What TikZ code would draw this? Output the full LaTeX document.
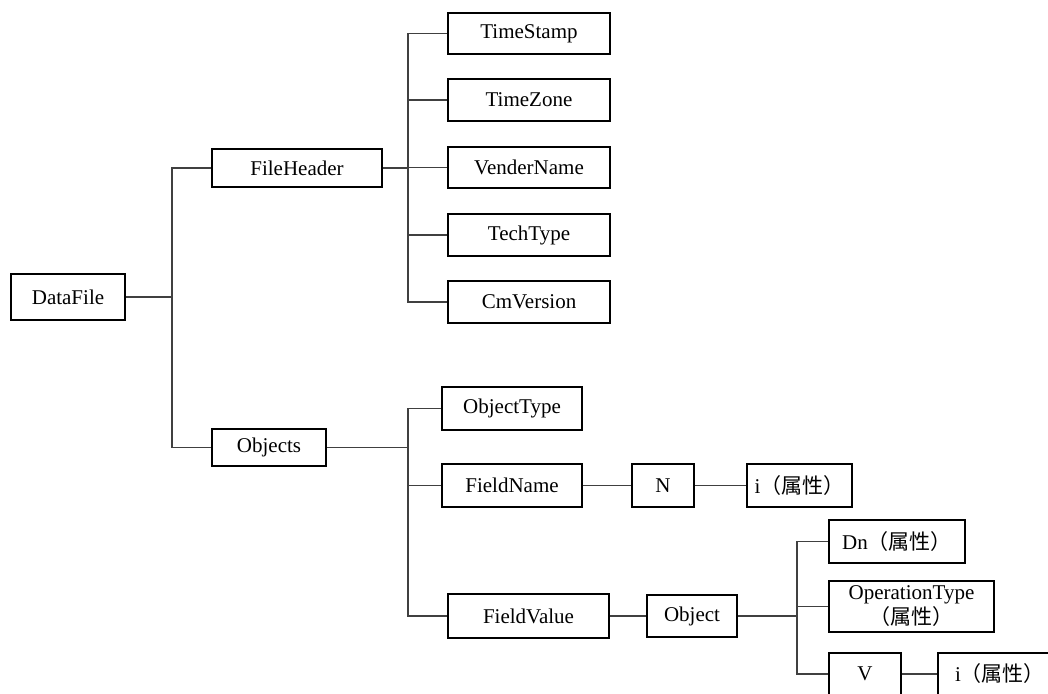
\documentclass[tikz,border=0pt]{standalone}
\usepackage{fontspec}
\setmainfont{Liberation Serif}
\newfontfamily\cjk{Noto Sans CJK SC}
\newcommand{\zh}[1]{{\cjk #1}}
\begin{document}
\begin{tikzpicture}[x=1pt,y=-1pt,
  box/.style={draw=black,line width=1.6pt,inner sep=0pt,align=center,
    font=\fontsize{21}{24}\selectfont},
  link/.style={draw=black!75,line width=1.1pt}]
\useasboundingbox (0,0) rectangle (1048,693);
\clip (0,0) rectangle (1048,693);
% nodes
\node[box,minimum width=114,minimum height=46] (datafile) at (68,297) {DataFile};
\node[box,minimum width=170,minimum height=38] (fileheader) at (297,168) {FileHeader};
\node[box,minimum width=114,minimum height=37] (objects) at (269,447.5) {Objects};
\node[box,minimum width=162,minimum height=41] (timestamp) at (529,33.5) {TimeStamp};
\node[box,minimum width=162,minimum height=42] (timezone) at (529,100) {TimeZone};
\node[box,minimum width=162,minimum height=41] (vendername) at (529,167.5) {VenderName};
\node[box,minimum width=162,minimum height=42] (techtype) at (529,235) {TechType};
\node[box,minimum width=162,minimum height=42] (cmversion) at (529,302) {CmVersion};
\node[box,minimum width=140,minimum height=43] (objecttype) at (512,408.5) {ObjectType};
\node[box,minimum width=140,minimum height=43] (fieldname) at (512,485.5) {FieldName};
\node[box,minimum width=62,minimum height=43] (n) at (663,485.5) {N};
\node[box,minimum width=105,minimum height=43] (ia) at (799.5,485.5) {i\zh{（属性）}};
\node[box,minimum width=161,minimum height=44] (fieldvalue) at (528.5,616) {FieldValue};
\node[box,minimum width=90,minimum height=42] (object) at (692,616) {Object};
\node[box,minimum width=136,minimum height=43] (dn) at (897,541.5) {Dn\zh{（属性）}};
\node[box,minimum width=165,minimum height=51] (optype) at (911.5,606.5) {OperationType\\[1pt]\zh{（属性）}};
\node[box,minimum width=72,minimum height=42] (v) at (865,674) {V};
\node[box,minimum width=124,minimum height=42] (ib) at (1000,674) {i\zh{（属性）}};
% junctions
\coordinate (j1) at (172,297);
\coordinate (j2) at (408,168);
\coordinate (j3) at (408,447.5);
\coordinate (j4) at (797,616);
% connectors
\draw[link] (datafile.east) -- (j1);
\draw[link] (fileheader.west) -| (j1) |- (objects.west);
\draw[link] (fileheader.east) -- (j2);
\draw[link] (timestamp.west) -| (j2) |- (cmversion.west);
\draw[link] (timezone.west) -- (timezone.west -| j2);
\draw[link] (vendername.west) -- (vendername.west -| j2);
\draw[link] (techtype.west) -- (techtype.west -| j2);
\draw[link] (objects.east) -- (j3);
\draw[link] (objecttype.west) -| (j3) |- (fieldvalue.west);
\draw[link] (fieldname.west) -- (fieldname.west -| j3);
\draw[link] (fieldname.east) -- (n.west);
\draw[link] (n.east) -- (ia.west);
\draw[link] (fieldvalue.east) -- (object.west);
\draw[link] (object.east) -- (j4);
\draw[link] (dn.west) -| (j4) |- (v.west);
\draw[link] (optype.west) -- (optype.west -| j4);
\draw[link] (v.east) -- (ib.west);
\end{tikzpicture}
\end{document}
